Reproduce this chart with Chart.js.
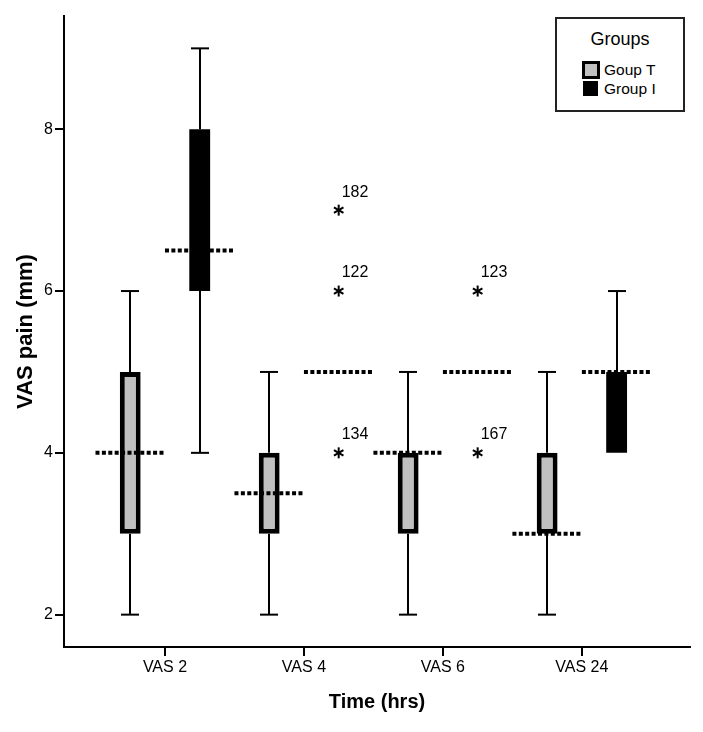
<!DOCTYPE html>
<html>
<head>
<meta charset="utf-8">
<script src="https://cdn.jsdelivr.net/npm/chart.js@4/dist/chart.umd.min.js"></script>
<style>
  html, body { margin: 0; padding: 0; background: #fff; }
  #wrap { position: relative; width: 703px; height: 732px; }
  #legend {
    position: absolute; left: 555px; top: 17px; width: 130px; height: 95px;
    box-sizing: border-box; border: 2px solid #222; background: #fff;
    font-family: 'Liberation Sans', Arial, sans-serif; color: #000;
  }
  #legend .ttl { position: absolute; left: 0; right: 0; top: 10px; text-align: center; font-size: 18px; line-height: 20px; }
  #legend .row { position: absolute; left: 24px; height: 19px; display: flex; align-items: center; font-size: 15.5px; }
  #legend .sw { width: 19px; height: 19px; display: flex; align-items: center; justify-content: center; margin-right: 4px; }
</style>
</head>
<body>
<div id="wrap">
  <canvas id="c" width="703" height="732"></canvas>
  <div id="legend">
    <div class="ttl">Groups</div>
    <div class="row" style="top:41px"><span class="sw"><span style="display:block;width:12px;height:12px;border:3px solid #000;background:#c0c0c0"></span></span><span id="lg0"></span></div>
    <div class="row" style="top:60px"><span class="sw"><span style="display:block;width:15px;height:15px;background:#000"></span></span><span id="lg1"></span></div>
  </div>
</div>
<script>
// ---------- data ----------
const categories = ['VAS 2', 'VAS 4', 'VAS 6', 'VAS 24'];
const groupNames = ['Goup T', 'Group I'];
const yTicks = [2, 4, 6, 8];

// Group T
const tMin    = [2, 2, 2, 2];
const tQ1     = [3, 3, 3, 3];
const tMedian = [4, 3.5, 4, 3];
const tQ3     = [5, 4, 4, 4];
const tMax    = [6, 5, 5, 5];

// Group I
const iMin    = [4, 5, 5, 4];
const iQ1     = [6, 5, 5, 4];
const iMedian = [6.5, 5, 5, 5];
const iQ3     = [8, 5, 5, 5];
const iMax    = [9, 5, 5, 6];

// Outliers (extreme values, shown as *), group index 1 = Group I
const outCategory = [1, 1, 1, 2, 2];
const outGroup    = [1, 1, 1, 1, 1];
const outValue    = [7, 6, 4, 6, 4];
const outLabel    = ['182', '122', '134', '123', '167'];

// ---------- build ----------
document.getElementById('lg0').textContent = groupNames[0];
document.getElementById('lg1').textContent = groupNames[1];

const BAR_PCT = 0.30;
const FONT = "'Liberation Sans', Arial, sans-serif";
const stats = [
  { min: tMin, q1: tQ1, med: tMedian, q3: tQ3, max: tMax },
  { min: iMin, q1: iQ1, med: iMedian, q3: iQ3, max: iMax }
];

function boxData(s) {
  return categories.map((c, i) => ({ x: i, y: [s.q1[i], s.q3[i]] }));
}

const boxPlugin = {
  id: 'boxExtras',
  beforeDatasetsDraw(chart) {
    const ctx = chart.ctx, ys = chart.scales.y;
    ctx.save();
    ctx.strokeStyle = '#000';
    ctx.lineWidth = 2;
    stats.forEach((s, g) => {
      const meta = chart.getDatasetMeta(g);
      meta.data.forEach((el, i) => {
        const x = Math.round(el.x);
        const cap = 9;
        const seg = (a, b) => {
          if (a === b) return;
          const ya = ys.getPixelForValue(a), yb = ys.getPixelForValue(b);
          ctx.beginPath(); ctx.moveTo(x, ya); ctx.lineTo(x, yb); ctx.stroke();
          ctx.beginPath(); ctx.moveTo(x - cap, ya); ctx.lineTo(x + cap, ya); ctx.stroke();
        };
        seg(s.min[i], s.q1[i]);
        seg(s.max[i], s.q3[i]);
      });
    });
    ctx.restore();
  },
  afterDatasetsDraw(chart) {
    const ctx = chart.ctx, ys = chart.scales.y;
    ctx.save();
    // medians: dotted thick lines
    ctx.strokeStyle = '#000';
    ctx.lineWidth = 4;
    ctx.setLineDash([4, 2.4]);
    stats.forEach((s, g) => {
      const meta = chart.getDatasetMeta(g);
      meta.data.forEach((el, i) => {
        const half = el.width / BAR_PCT / 2;
        const y = ys.getPixelForValue(s.med[i]);
        ctx.beginPath(); ctx.moveTo(el.x - half, y); ctx.lineTo(el.x + half, y); ctx.stroke();
      });
    });
    ctx.setLineDash([]);
    // outliers: asterisks with case labels
    ctx.lineWidth = 2;
    ctx.fillStyle = '#000';
    ctx.font = '16px ' + FONT;
    ctx.textAlign = 'left';
    ctx.textBaseline = 'middle';
    outValue.forEach((v, k) => {
      const el = chart.getDatasetMeta(outGroup[k]).data[outCategory[k]];
      const x = el.x, y = ys.getPixelForValue(v);
      const r = 5.5;
      for (let a = 0; a < 3; a++) {
        const ang = Math.PI / 2 + a * Math.PI / 3;
        ctx.beginPath();
        ctx.moveTo(x - r * Math.cos(ang), y - r * Math.sin(ang));
        ctx.lineTo(x + r * Math.cos(ang), y + r * Math.sin(ang));
        ctx.stroke();
      }
      ctx.fillText(outLabel[k], x + 3, y - 18);
    });
    ctx.restore();
  }
};

new Chart(document.getElementById('c'), {
  type: 'bar',
  data: {
    datasets: [
      {
        label: groupNames[0], data: boxData(stats[0]),
        backgroundColor: '#c0c0c0', borderColor: '#000', borderWidth: 5, borderSkipped: false,
        barPercentage: BAR_PCT, categoryPercentage: 1.0
      },
      {
        label: groupNames[1], data: boxData(stats[1]),
        backgroundColor: '#000', borderColor: '#000', borderWidth: 0, borderSkipped: false,
        barPercentage: BAR_PCT, categoryPercentage: 1.0
      }
    ]
  },
  options: {
    responsive: false,
    animation: false,
    devicePixelRatio: 1,
    layout: { padding: { left: 0, right: 13, top: 16, bottom: 0 } },
    plugins: { legend: { display: false }, tooltip: { enabled: false } },
    scales: {
      x: {
        type: 'linear',
        offset: false,
        min: -0.7266, max: 3.778,
        afterBuildTicks: (s) => { s.ticks = categories.map((c, i) => ({ value: i })); },
        afterFit: (s) => { s.height = 85; },
        grid: { offset: false, drawOnChartArea: false, drawTicks: true, tickLength: 9, color: '#000', lineWidth: 2 },
        border: { display: true, color: '#000', width: 2 },
        ticks: {
          callback: (v) => categories[v],
          color: '#000', font: { family: FONT, size: 16 }, padding: 2,
          autoSkip: false, maxRotation: 0
        },
        title: {
          display: true, text: 'Time (hrs)', color: '#000',
          font: { family: FONT, size: 20, weight: 'bold' },
          padding: { top: 0, bottom: 18 }
        }
      },
      y: {
        type: 'linear',
        min: 1.6, max: 9.4,
        afterBuildTicks: (s) => { s.ticks = yTicks.map(v => ({ value: v })); },
        afterFit: (s) => { s.width = 64; },
        grid: { drawOnChartArea: false, drawTicks: true, tickLength: 9, color: '#000', lineWidth: 2 },
        border: { display: true, color: '#000', width: 2 },
        ticks: { color: '#000', font: { family: FONT, size: 16 }, padding: 2 },
        title: {
          display: true, text: 'VAS pain (mm)', color: '#000',
          font: { family: FONT, size: 22, weight: 'bold' },
          padding: { top: 13, bottom: 0 }
        }
      }
    }
  },
  plugins: [boxPlugin]
});
</script>
</body>
</html>
